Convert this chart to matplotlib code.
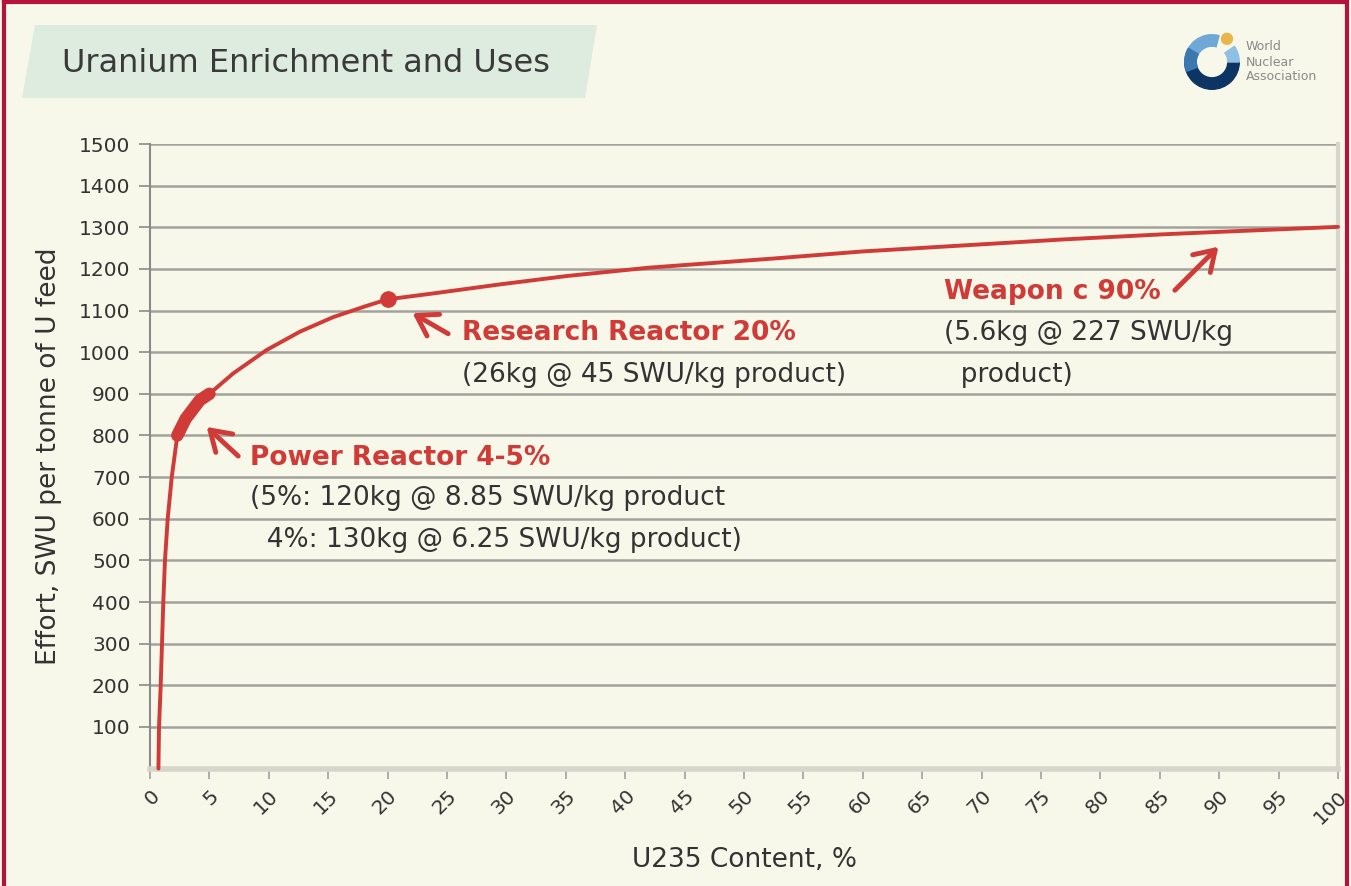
import matplotlib
matplotlib.use('Agg')
import matplotlib.pyplot as plt
from matplotlib.patches import Polygon, Wedge, Circle
from matplotlib.lines import Line2D

# data
u235 = [0.71, 0.76, 0.90, 1.01, 1.12, 1.26, 1.49, 1.83, 2.3, 3.0, 4.2, 5.0,
        7.0, 9.8, 12.6, 15.4, 18.2, 20, 23.8, 29.5, 35.1, 42, 52.5, 60,
        68.8, 77, 85.2, 90, 100]
swu = [0, 100, 200, 300, 400, 500, 600, 700, 800, 840, 885, 900,
       949, 1005, 1049, 1084, 1111, 1127, 1141, 1163, 1183, 1203, 1225, 1242,
       1257, 1271, 1283, 1289, 1301]
power_x = [2.3, 3.0, 4.2, 5.0]
power_y = [800, 840, 885, 900]
research_x, research_y = 20, 1128

x_ticks = list(range(0, 101, 5))
y_ticks = list(range(100, 1501, 100))

RED = '#d03a37'
BG = '#f7f7ea'
TXT = '#333333'

fig = plt.figure(figsize=(13.51, 8.86), dpi=100, facecolor=BG)
W, H = 1351, 886

def fx(px):
    return px / W

def fy(py):
    return 1 - py / H

# title banner
fig.patches.append(Polygon([(fx(22), fy(98)), (fx(35), fy(25)), (fx(597), fy(25)), (fx(585), fy(98))],
                           closed=True, transform=fig.transFigure, facecolor='#deebdf', edgecolor='none'))
fig.text(fx(62), fy(63), 'Uranium Enrichment and Uses', fontsize=23, color='#3a3a3a', va='center', ha='left')

# frame
for xs, ys in [([fx(3.5), fx(3.5)], [0, fy(1.5)]),
               ([fx(3.5), fx(1347)], [fy(1.5), fy(1.5)]),
               ([fx(1347), fx(1347)], [fy(1.5), 0])]:
    fig.add_artist(Line2D(xs, ys, transform=fig.transFigure, color='#b5123e', lw=3))

# logo
lax = fig.add_axes([fx(1182), fy(92), fx(60), 60 / H])
lax.set_xlim(-1.1, 1.1)
lax.set_ylim(-1.1, 1.1)
lax.set_aspect('equal')
lax.axis('off')
lax.add_patch(Wedge((0, 0), 1, 75, 180, width=0.42, color='#6fa8d6'))
lax.add_patch(Wedge((0, 0), 1, 180, 360, width=0.42, color='#0d3563'))
lax.add_patch(Wedge((0, 0), 1, 150, 200, width=0.42, color='#3a78b0'))
lax.add_patch(Wedge((0, 0), 1, 0, 35, width=0.42, color='#8fc0e4'))
lax.add_patch(Circle((0.55, 0.85), 0.2, color='#e8b64a'))
for i, w in enumerate(['World', 'Nuclear', 'Association']):
    fig.text(fx(1246), fy(47 + i * 15), w, fontsize=9, color='#8a8a8a', va='center', ha='left')

# main axes
ax = fig.add_axes([fx(150), fy(768.6), fx(1338) - fx(150), fy(144) - fy(768.6)])
ax.set_facecolor(BG)
ax.set_xlim(0, 100)
ax.set_ylim(0, 1500)
for y in y_ticks:
    ax.axhline(y, color='#a3a39d', lw=1.8, zorder=1)

ax.spines['top'].set_visible(False)
ax.spines['left'].set_color('#8a8a8a')
ax.spines['left'].set_linewidth(1.5)
ax.spines['right'].set_color('#d6d6cc')
ax.spines['right'].set_linewidth(3)
ax.spines['bottom'].set_color('#d6d6cc')
ax.spines['bottom'].set_linewidth(4)

ax.set_yticks(y_ticks)
ax.set_yticklabels([str(v) for v in y_ticks])
ax.set_xticks(x_ticks)
ax.set_xticklabels([str(v) for v in x_ticks], rotation=45, ha='right', va='top', rotation_mode='anchor')
ax.tick_params(axis='y', length=8, width=1.2, color='#8a8a8a', labelsize=14.5, labelcolor=TXT, pad=6)
ax.tick_params(axis='x', length=7, width=1.2, color='#a0a0a0', labelsize=14.5, labelcolor=TXT, pad=6)

ax.set_xlabel('U235 Content, %', fontsize=19, color=TXT, labelpad=14)
ax.set_ylabel('Effort, SWU per tonne of U feed', fontsize=19, color=TXT, labelpad=12)

# curve
ax.plot(u235, swu, color=RED, lw=2.8, solid_joinstyle='round', solid_capstyle='round', zorder=3, clip_on=False)
ax.plot(power_x, power_y, color=RED, lw=9, solid_capstyle='round', solid_joinstyle='round', zorder=4)
ax.plot([research_x], [research_y], 'o', color=RED, markersize=11, zorder=4)

# annotations
arrow = dict(arrowstyle='->, head_length=0.7, head_width=0.45', lw=3.5, color=RED, mutation_scale=20)
ax.annotate('', xy=(4.6, 825), xytext=(7.6, 746), arrowprops=arrow)
ax.annotate('', xy=(21.9, 1097), xytext=(25.3, 1041), arrowprops=arrow)
ax.annotate('', xy=(90.1, 1258), xytext=(86.1, 1144), arrowprops=arrow)

ax.text(8.4, 746, 'Power Reactor 4-5%', fontsize=19, fontweight='bold', color=RED, va='center', ha='left')
ax.text(8.4, 650, '(5%: 120kg @ 8.85 SWU/kg product', fontsize=19, color=TXT, va='center', ha='left')
ax.text(8.4, 549, '  4%: 130kg @ 6.25 SWU/kg product)', fontsize=19, color=TXT, va='center', ha='left')

ax.text(26.3, 1046, 'Research Reactor 20%', fontsize=19, fontweight='bold', color=RED, va='center', ha='left')
ax.text(26.3, 945, '(26kg @ 45 SWU/kg product)', fontsize=19, color=TXT, va='center', ha='left')

ax.text(66.8, 1144, 'Weapon c 90%', fontsize=19, fontweight='bold', color=RED, va='center', ha='left')
ax.text(66.8, 1046, '(5.6kg @ 227 SWU/kg', fontsize=19, color=TXT, va='center', ha='left')
ax.text(66.8, 945, '  product)', fontsize=19, color=TXT, va='center', ha='left')

fig.savefig('out.png', dpi=100, facecolor=BG)
